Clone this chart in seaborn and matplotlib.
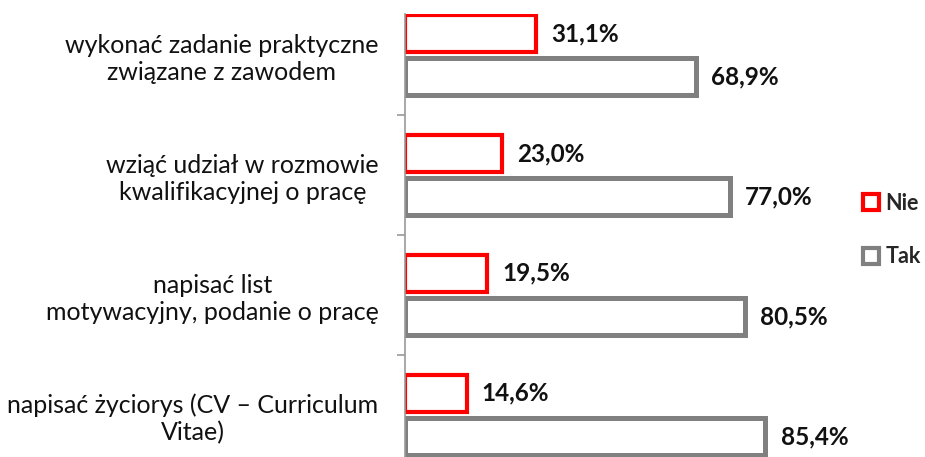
import matplotlib
matplotlib.use("Agg")
import matplotlib.pyplot as plt
from matplotlib.patches import Patch
from matplotlib.ticker import FixedLocator
import pandas as pd
import seaborn as sns

# data
categories = [
    "wykonać zadanie praktyczne\nzwiązane z zawodem",
    "wziąć udział w rozmowie\nkwalifikacyjnej o pracę",
    "napisać list\nmotywacyjny, podanie o pracę",
    "napisać życiorys (CV – Curriculum\nVitae)",
]
series = ["Nie", "Tak"]
nie = [31.1, 23.0, 19.5, 14.6]
tak = [68.9, 77.0, 80.5, 85.4]
colors = {"Nie": "#ff0000", "Tak": "#808080"}

df = pd.DataFrame({
    "kategoria": categories * 2,
    "odp": ["Nie"] * len(nie) + ["Tak"] * len(tak),
    "proc": nie + tak,
})

sns.set_style("white")
plt.rcParams["font.family"] = ["Lato", "DejaVu Sans"]

fig = plt.figure(figsize=(9.25, 4.57), dpi=100)
ax = fig.add_axes([405 / 925, -18 / 457, 422 / 925, 461 / 457])

sns.barplot(data=df, y="kategoria", x="proc", hue="odp", hue_order=series,
            palette=colors, orient="h", fill=False, width=0.72, gap=0.16,
            linewidth=3.2, legend=False, ax=ax)

for cont, s in zip(ax.containers, series):
    for bar in cont:
        bar.set_edgecolor(colors[s])
        bar.set_facecolor("white")
        bar.set_linewidth(3.0 if s == "Nie" else 3.6)
    ax.bar_label(cont, labels=[f"{v:.1f}%".replace(".", ",") for v in cont.datavalues],
                 padding=11, fontsize=17.5, fontweight="bold", color="#111111")

ax.set_xlim(0, 100)
ax.set_ylim(3.5, -0.342)
ax.set_xlabel("")
ax.set_ylabel("")
ax.set_xticks([])
for side in ["top", "right", "bottom"]:
    ax.spines[side].set_visible(False)
ax.spines["left"].set_color("#999999")
ax.spines["left"].set_linewidth(1.2)

ax.set_yticks(range(len(categories)))
ax.set_yticklabels(categories, fontsize=18, multialignment="center",
                   linespacing=1.2, color="#111111")
ax.tick_params(axis="y", which="major", length=0, pad=19)
ax.yaxis.set_minor_locator(FixedLocator([0.5, 1.5, 2.5]))
ax.tick_params(axis="y", which="minor", length=6, width=1.2, color="#999999", left=True)

handles = [Patch(facecolor="white", edgecolor=colors[s], linewidth=3.0, label=s)
           for s in series]
fig.legend(handles=handles, loc="center left", bbox_to_anchor=(863 / 925, 1 - 230 / 457),
           frameon=False, handlelength=0.75, handleheight=0.75, handletextpad=0.3,
           labelspacing=1.5, borderpad=0, prop={"size": 15.5, "weight": "bold"},
           borderaxespad=0)

fig.savefig("out.png", dpi=100)
